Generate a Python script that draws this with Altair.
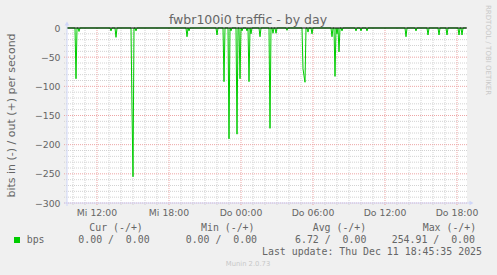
import altair as alt
import pandas as pd

# ---------------- data ----------------
chart_title = "fwbr100i0 traffic - by day"
y_title = "bits in (-) / out (+) per second"
first_sample = "2025-12-10 09:30"     # Wed, first 5-minute sample
sample_count = 400
sample_minutes = 5

spike_times = [
    "2025-12-10 10:15", "2025-12-10 10:30", "2025-12-10 13:10", "2025-12-10 13:35",
    "2025-12-10 14:55", "2025-12-10 15:00", "2025-12-10 15:15", "2025-12-10 19:30",
    "2025-12-10 19:40", "2025-12-10 22:00", "2025-12-10 22:35", "2025-12-10 23:00",
    "2025-12-10 23:10", "2025-12-10 23:40", "2025-12-10 23:55", "2025-12-11 00:05",
    "2025-12-11 00:30", "2025-12-11 00:40", "2025-12-11 00:50", "2025-12-11 01:35",
    "2025-12-11 02:25", "2025-12-11 02:40", "2025-12-11 02:55", "2025-12-11 03:50",
    "2025-12-11 05:10", "2025-12-11 05:15", "2025-12-11 05:20", "2025-12-11 05:35",
    "2025-12-11 05:55", "2025-12-11 07:35", "2025-12-11 07:50", "2025-12-11 08:00",
    "2025-12-11 08:10", "2025-12-11 08:25", "2025-12-11 09:35", "2025-12-11 10:00",
    "2025-12-11 10:30", "2025-12-11 13:45", "2025-12-11 14:35", "2025-12-11 15:35",
    "2025-12-11 16:30", "2025-12-11 17:10", "2025-12-11 18:10", "2025-12-11 18:25",
]
spike_values = [
    -87, -6, -5, -16,
    -140, -255, -5, -15,
    -5, -12, -92, -190,
    -5, -182, -87, -5,
    -5, -92, -10, -15,
    -172, -9, -9, -4,
    -70, -82, -93, -7,
    -10, -15, -83, -10,
    -41, -5, -5, -5,
    -5, -15, -5, -12,
    -12, -12, -12, -12,
]

x_tick_times = ["2025-12-10 12:00", "2025-12-10 18:00", "2025-12-11 00:00",
                "2025-12-11 06:00", "2025-12-11 12:00", "2025-12-11 18:00"]
x_tick_labels = ["Mi 12:00", "Mi 18:00", "Do 00:00", "Do 06:00", "Do 12:00", "Do 18:00"]
y_major_values = [0, -50, -100, -150, -200, -250, -300]

legend_name = "bps"
legend_headers = ["Cur (-/+)", "Min (-/+)", "Avg (-/+)", "Max (-/+)"]
legend_in = [0.00, 0.00, 6.72, 254.91]
legend_out = [0.00, 0.00, 0.00, 0.00]
last_update = "Last update: Thu Dec 11 18:45:35 2025"
watermark = "Munin 2.0.73"
side_text = "RRDTOOL / TOBI OETIKER"

# ---------------- tables ----------------
def iso(ts):
    return ts.strftime("%Y-%m-%dT%H:%M:%SZ")

t0 = pd.Timestamp(first_sample, tz="UTC")
times = pd.date_range(t0, periods=sample_count, freq=f"{sample_minutes}min")
spikes = {pd.Timestamp(s, tz="UTC"): v for s, v in zip(spike_times, spike_values)}
series = pd.DataFrame({
    "t": [iso(t) for t in times],
    "v": [spikes.get(t, 0) for t in times],
})

t_end = t0 + pd.Timedelta(minutes=sample_minutes * sample_count)
dom = [int(t0.value // 10**6), int(t_end.value // 10**6)]

hours = pd.date_range(t0.ceil("h"), t_end, freq="h")
major_set = {pd.Timestamp(s, tz="UTC") for s in x_tick_times}
vminor = pd.DataFrame({"t": [iso(h) for h in hours if h not in major_set]})
vmajor = pd.DataFrame({"t": [iso(pd.Timestamp(s, tz="UTC")) for s in x_tick_times]})
xlabels = pd.DataFrame({"t": vmajor["t"], "label": x_tick_labels})

hminor = pd.DataFrame({"v": [v for v in range(-290, 0, 10) if v % 50 != 0]})
hmajor = pd.DataFrame({"v": [v for v in y_major_values if v != 0]})
zero = pd.DataFrame({"v": [0]})

x_scale = alt.Scale(type="utc", domain=dom)
y_scale = alt.Scale(domain=[-300, 0], nice=False, zero=False)

FONT = "DejaVu Sans"
MONO = "DejaVu Sans Mono"
TXT = "#666666"
AXIS_COL = "#CFD6F8"
MINOR_COL = "#d2d2d2"
MAJOR_COL = "#eda5a5"

y_axis = alt.Axis(
    values=y_major_values, grid=False, ticks=False, domain=False,
    labelFont=FONT, labelFontSize=9.3, labelColor=TXT, labelPadding=7,
    title=y_title, titleFont=FONT, titleFontSize=11, titleFontWeight="normal",
    titleColor=TXT, titleX=-56, titleY=87, titleAngle=270,
    titleAlign="center", titleBaseline="middle")


def Y():
    return alt.Y("v:Q", scale=y_scale, axis=y_axis)


def X():
    return alt.X("t:T", scale=x_scale, axis=None)


# ---------------- layers ----------------
grid_minor_v = alt.Chart(vminor).mark_rule(color=MINOR_COL, strokeWidth=1, strokeDash=[1, 1]).encode(
    x=X(), y=alt.value(0), y2=alt.value(178))
grid_major_v = alt.Chart(vmajor).mark_rule(color=MAJOR_COL, strokeWidth=1, strokeDash=[1, 1]).encode(
    x=X(), y=alt.value(0), y2=alt.value(178))
grid_minor_h = alt.Chart(hminor).mark_rule(color=MINOR_COL, strokeWidth=1, strokeDash=[1, 1]).encode(
    y=Y(), x=alt.value(-3), x2=alt.value(401))
grid_major_h = alt.Chart(hmajor).mark_rule(color=MAJOR_COL, strokeWidth=1, strokeDash=[1, 1]).encode(
    y=Y(), x=alt.value(-3), x2=alt.value(401))

line = alt.Chart(series).mark_line(color="#00CC00", strokeWidth=1, interpolate="linear").encode(
    x=X(), y=Y())

zero_rule = alt.Chart(zero).mark_rule(color="black", strokeWidth=1).encode(
    y=Y(), x=alt.value(0), x2=alt.value(400))

axis_left = alt.Chart(zero).mark_rule(color=AXIS_COL, strokeWidth=1).encode(
    x=alt.value(0), y=alt.value(-3), y2=alt.value(178))
axis_bottom = alt.Chart(zero).mark_rule(color=AXIS_COL, strokeWidth=1).encode(
    y=alt.value(175), x=alt.value(-3), x2=alt.value(403))
arrow_up = alt.Chart(zero).mark_point(shape="triangle-up", filled=True, color=AXIS_COL,
                                      size=22, opacity=1).encode(x=alt.value(0), y=alt.value(-4.5))
arrow_right = alt.Chart(zero).mark_point(shape="triangle-right", filled=True, color=AXIS_COL,
                                         size=22, opacity=1).encode(x=alt.value(404.5), y=alt.value(175))

x_text = alt.Chart(xlabels).mark_text(font=FONT, fontSize=9.3, color=TXT, baseline="alphabetic",
                                      align="center").encode(
    x=X(), y=alt.value(188), text="label:N")


def label(txt, x, y, **kw):
    props = dict(font=MONO, fontSize=9.9, color=TXT, baseline="alphabetic", align="left")
    props.update(kw)
    return alt.Chart(pd.DataFrame({"s": [txt]})).mark_text(**props).encode(
        x=alt.value(x), y=alt.value(y), text="s:N")


NB = "\u00a0"
layers = [grid_minor_v, grid_minor_h, grid_major_v, grid_major_h, line, zero_rule,
          axis_left, axis_bottom, arrow_up, arrow_right, x_text]

layers.append(label(chart_title, 181, -4.5, font=FONT, fontSize=12.5, align="center"))
layers.append(label(side_text, 421, -23, font=FONT, fontSize=7, color="#c8c8c8",
                    angle=90, baseline="middle"))

header_x = [22.3, 134, 245.7, 355.7]
value_x = [11.3, 118.7, 228, 324.7]
for hx, vx, h, a, b in zip(header_x, value_x, legend_headers, legend_in, legend_out):
    layers.append(label(h, hx, 203))
    layers.append(label(f"{a:.2f}{NB}/{NB}{NB}{b:.2f}", vx, 214.7))

layers.append(label(legend_name, -40.3, 214.7))
layers.append(alt.Chart(zero).mark_point(shape="square", filled=True, color="#00CC00",
                                         size=36, opacity=1).encode(x=alt.value(-50), y=alt.value(212)))
layers.append(label(last_update, 415, 226.7, align="right"))
layers.append(label(watermark, 181, 238, font=FONT, fontSize=6.8, color="#c8c8c8", align="center"))

chart = alt.layer(*layers).properties(
    width=400, height=175,
    padding={"left": 67, "top": 28, "right": 30, "bottom": 72},
    autosize="none",
    background="#F0F0F0",
).configure_view(fill="white", strokeWidth=0)

chart.save("out.html", embed_options={"renderer": "svg", "actions": False})
